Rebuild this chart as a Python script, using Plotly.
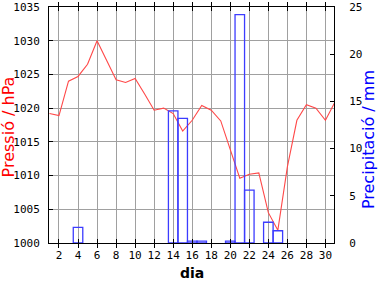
import plotly.graph_objects as go

days = list(range(1, 32))
pressure = [1019.2, 1018.9, 1024.0, 1024.7, 1026.5, 1030.0, 1027.1, 1024.2, 1023.8, 1024.4,
            1022.1, 1019.7, 1020.0, 1019.2, 1016.6, 1018.2, 1020.4, 1019.7, 1018.1, 1013.9,
            1009.6, 1010.2, 1010.4, 1004.5, 1001.9, 1011.3, 1018.2, 1020.5, 1020.0, 1018.2,
            1020.9]
precip = [0, 0, 0, 1.65, 0, 0, 0, 0, 0, 0,
          0, 0, 0, 14.0, 13.2, 0.2, 0.2, 0, 0, 0.2,
          24.2, 5.6, 0, 2.2, 1.3, 0, 0, 0, 0, 0,
          0]
xticks = list(range(2, 31, 2))
yticks = list(range(1000, 1036, 5))
y2ticks = list(range(0, 26, 5))

rain_days = [d for d, p in zip(days, precip) if p > 0]
rain_vals = [p for p in precip if p > 0]

tickfont = dict(family="DejaVu Sans Mono", size=11, color="black")
grid = "#a0a0a0"

fig = go.Figure()
fig.add_trace(go.Scatter(x=days, y=pressure, mode="lines",
                         line=dict(color="#ff4848", width=1.1), yaxis="y"))
fig.add_trace(go.Bar(x=rain_days, y=rain_vals, width=1, yaxis="y2",
                     marker=dict(color="rgba(0,0,0,0)",
                                 line=dict(color="#3c3cff", width=1.3))))

fig.update_layout(
    width=384, height=288,
    margin=dict(l=49, r=50, t=1, b=45),
    paper_bgcolor="white", plot_bgcolor="white",
    showlegend=False,
    xaxis=dict(range=[0.95, 30.9], tickvals=xticks, ticks="inside", ticklen=4,
               tickcolor="black", showgrid=True, gridcolor=grid, gridwidth=1,
               showline=True, linecolor="black", linewidth=1, mirror="allticks",
               tickfont=tickfont, zeroline=False, ticklabelstandoff=2),
    yaxis=dict(range=[1000, 1035], tickvals=yticks, ticks="inside", ticklen=4,
               tickcolor="black", showgrid=True, gridcolor=grid, gridwidth=1,
               showline=True, linecolor="black", linewidth=1, mirror=True,
               tickfont=tickfont, zeroline=False, ticklabelstandoff=6,
               ticklabeloverflow="allow"),
    yaxis2=dict(range=[0, 25], tickvals=y2ticks, ticks="inside", ticklen=4,
                tickcolor="black", showgrid=False, overlaying="y", side="right",
                showline=True, linecolor="black", linewidth=1,
                tickfont=tickfont, zeroline=False, ticklabelstandoff=12,
                ticklabeloverflow="allow"),
    annotations=[
        dict(text="Pressió / hPa", textangle=-90, x=-0.142, y=0.492,
             xref="paper", yref="paper", showarrow=False,
             xanchor="center", yanchor="middle",
             font=dict(family="DejaVu Sans", size=16, color="red")),
        dict(text="Precipitació / mm", textangle=-90, x=1.1193, y=0.436,
             xref="paper", yref="paper", showarrow=False,
             xanchor="center", yanchor="middle",
             font=dict(family="DejaVu Sans", size=16, color="blue")),
        dict(text="<b>dia</b>", x=0.5, y=-0.125,
             xref="paper", yref="paper", showarrow=False,
             xanchor="center", yanchor="middle",
             font=dict(family="DejaVu Sans", size=14, color="black")),
    ],
)

fig.write_html("out.html")
